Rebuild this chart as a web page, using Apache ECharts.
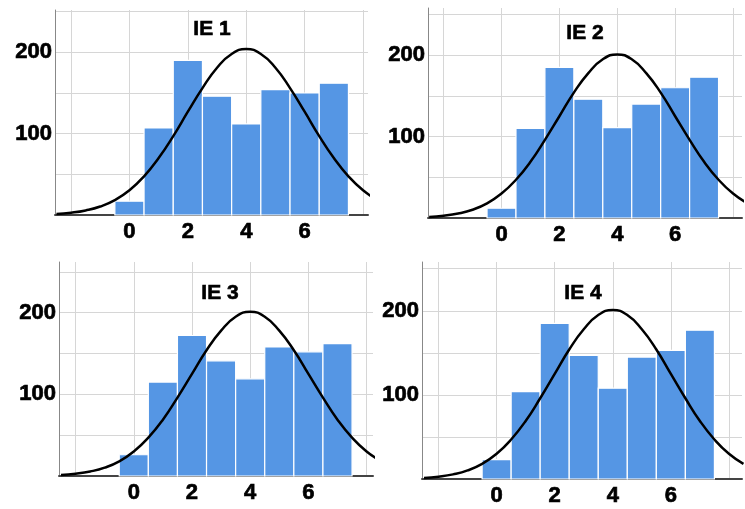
<!DOCTYPE html>
<html>
<head>
<meta charset="utf-8">
<title>IE histograms</title>
<script src="https://cdn.jsdelivr.net/npm/echarts@6/dist/echarts.min.js"></script>
<style>
  html, body { margin: 0; padding: 0; background: #fff; }
  #chart { width: 745px; height: 509px; }
</style>
</head>
<body>
<div id="chart"></div>
<script>
// panel titles
var titles = ['IE 1', 'IE 2', 'IE 3', 'IE 4']

// histogram bins (bar centres) and counts per panel
var bins = [0, 1, 2, 3, 4, 5, 6, 7]
var ie1 = [17, 107, 190, 146, 112, 154, 150, 162]
var ie2 = [12, 110, 185, 146, 111, 140, 160, 173]
var ie3 = [26, 115, 172, 141, 119, 158, 152, 162]
var ie4 = [23, 104, 185, 147, 108, 145, 153, 177]

// fitted curve, every half step
var curveX = [-2.5, -2, -1.5, -1, -0.5, 0, 0.5, 1, 1.5, 2, 2.5, 3, 3.5, 4, 4.5, 5, 5.5, 6, 6.5, 7, 7.5, 8, 8.5]
var curve1 = [1.3, 2.8, 5.6, 10.4, 18.3, 30.4, 47.5, 70, 97, 127, 156, 181, 198, 204, 198, 181, 156, 127, 97, 70, 47.5, 30.4, 18.3]
var curve2 = [1.3, 2.8, 5.5, 10.2, 18, 30, 47, 69, 96, 125, 154, 178, 195, 201, 195, 178, 154, 125, 96, 69, 47, 30, 18]
var curve3 = [1.3, 2.8, 5.5, 10.2, 18, 30, 47, 69, 96, 125, 154, 178, 195, 201, 195, 178, 154, 125, 96, 69, 47, 30, 18]
var curve4 = [1.3, 2.8, 5.5, 10.2, 18, 30, 47, 69, 96, 125, 154, 178, 195, 201, 195, 178, 154, 125, 96, 69, 47, 30, 18]

// tick labels that are actually printed
var xTickLabels = [0, 2, 4, 6]
var yTickLabels = [100, 200]

var counts = [ie1, ie2, ie3, ie4]
var curves = [curve1, curve2, curve3, curve4]

// layout of each panel (px) and the visible axis range
var panels = [
  { left: 55, right: 377, top: 10, bottom: 294, xMin: -2.55, xMax: 8.17, yMax: 252, titleX: 212, titleY: 19 },
  { left: 428, right: 0, top: 8, bottom: 291, xMin: -2.54, xMax: 8.31, yMax: 258, titleX: 585, titleY: 23 },
  { left: 59, right: 372, top: 262, bottom: 33, xMin: -2.57, xMax: 8.22, yMax: 262, titleX: 220, titleY: 283 },
  { left: 422, right: 0, top: 262, bottom: 30, xMin: -2.57, xMax: 8.45, yMax: 258, titleX: 583, titleY: 283 }
]

var labelFont = {
  color: '#000',
  fontSize: 22,
  fontWeight: 'bold',
  fontFamily: 'Liberation Sans',
  textBorderColor: '#000',
  textBorderWidth: 0.7
}

// vertical grid: ticks are [min, -2, 0, 2, 4, 6, 8, max]; the line at max is not drawn
var gridGray = '#d6d6d6'
var vLineColors = [gridGray, gridGray, gridGray, gridGray, gridGray, gridGray, gridGray, 'rgba(0,0,0,0)']

function renderBar (params, api) {
  var x = api.value(0)
  var p0 = api.coord([x - 0.5, api.value(1)])
  var p1 = api.coord([x + 0.5, 0])
  return {
    type: 'rect',
    shape: { x: p0[0], y: p0[1], width: p1[0] - p0[0], height: p1[1] - p0[1] },
    style: { fill: '#5596e4', stroke: '#fff', lineWidth: 1.2 }
  }
}

var option = {
  backgroundColor: '#fff',
  animation: false,
  title: [],
  grid: [],
  xAxis: [],
  yAxis: [],
  series: []
}

panels.forEach(function (p, i) {
  option.title.push({
    text: titles[i],
    left: p.titleX,
    top: p.titleY,
    textAlign: 'center',
    padding: 0,
    textStyle: { color: '#000', fontSize: 21, fontWeight: 'bold', fontFamily: 'Liberation Sans', textBorderColor: '#000', textBorderWidth: 0.6 }
  })
  option.grid.push({ left: p.left, right: p.right, top: p.top, bottom: p.bottom, containLabel: false })
  option.xAxis.push({
    type: 'value',
    gridIndex: i,
    min: p.xMin,
    max: p.xMax,
    splitNumber: 5,
    axisLine: { show: true, onZero: false, lineStyle: { color: '#444', width: 2 } },
    axisTick: { show: false },
    axisLabel: Object.assign({
      margin: 6,
      formatter: function (v) {
        return xTickLabels.indexOf(Math.round(v * 100) / 100) > -1 ? String(v) : ''
      }
    }, labelFont),
    splitLine: { show: true, lineStyle: { color: vLineColors, width: 1 } }
  })
  option.yAxis.push({
    type: 'value',
    gridIndex: i,
    min: 0,
    max: p.yMax,
    interval: 50,
    axisLine: { show: true, onZero: false, lineStyle: { color: '#888', width: 1 } },
    axisTick: { show: false },
    axisLabel: Object.assign({
      margin: 3,
      formatter: function (v) {
        return yTickLabels.indexOf(v) > -1 ? String(v) : ''
      }
    }, labelFont),
    splitLine: { show: true, showMaxLine: false, lineStyle: { color: gridGray, width: 1 } }
  })
  option.series.push({
    type: 'custom',
    xAxisIndex: i,
    yAxisIndex: i,
    renderItem: renderBar,
    encode: { x: 0, y: 1 },
    data: bins.map(function (b, k) { return [b, counts[i][k]] }),
    z: 2
  })
  option.series.push({
    type: 'line',
    xAxisIndex: i,
    yAxisIndex: i,
    smooth: true,
    showSymbol: false,
    clip: true,
    lineStyle: { color: '#000', width: 2.5 },
    data: curveX.map(function (x, k) { return [x, curves[i][k]] }),
    z: 3
  })
})

var myChart = echarts.init(document.getElementById('chart'))
myChart.setOption(option)
</script>
</body>
</html>
